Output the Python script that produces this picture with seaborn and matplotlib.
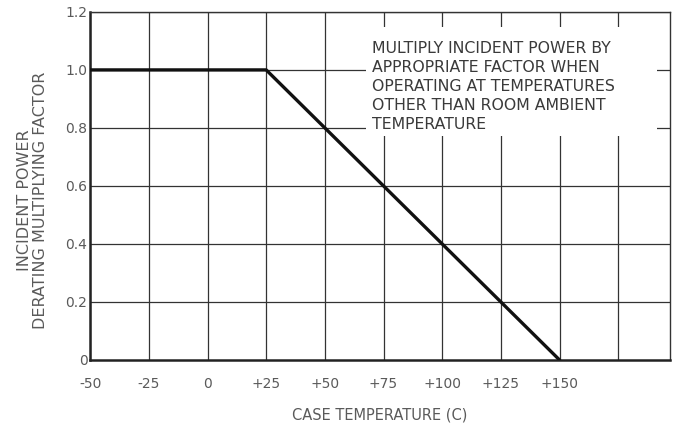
import matplotlib
matplotlib.use("Agg")
import matplotlib.pyplot as plt
from matplotlib.patches import Rectangle
import seaborn as sns
import pandas as pd

# derating curve
case_temp = [-50, 25, 150]
factor = [1.0, 1.0, 0.0]

x_ticks = [-50, -25, 0, 25, 50, 75, 100, 125, 150]
x_labels = ["-50", "-25", "0", "+25", "+50", "+75", "+100", "+125", "+150"]
x_grid = [-50, -25, 0, 25, 50, 75, 100, 125, 150, 175]
y_ticks = [0, 0.2, 0.4, 0.6, 0.8, 1.0, 1.2]
y_labels = ["0", "0.2", "0.4", "0.6", "0.8", "1.0", "1.2"]

note = ("MULTIPLY INCIDENT POWER BY\nAPPROPRIATE FACTOR WHEN\n"
        "OPERATING AT TEMPERATURES\nOTHER THAN ROOM AMBIENT\nTEMPERATURE")

sns.set_style("white")
plt.rcParams["font.family"] = ["DejaVu Sans"]
gray = "#5a5a5a"

fig = plt.figure(figsize=(6.78, 4.25), dpi=100)
ax = fig.add_axes([0.133, 0.153, 0.855, 0.819])

df = pd.DataFrame({"temp": case_temp, "factor": factor})

# grid lines
for gx in x_grid:
    ax.axvline(gx, color="#333333", lw=0.9, zorder=1)
for gy in y_ticks[1:]:
    ax.axhline(gy, color="#333333", lw=0.9, zorder=1)

sns.lineplot(data=df, x="temp", y="factor", color="#111111", lw=2.4, ax=ax, zorder=3)

ax.set_xlim(-50, 197)
ax.set_ylim(0, 1.2)
ax.set_xticks(x_ticks)
ax.set_xticklabels(x_labels)
ax.set_yticks(y_ticks)
ax.set_yticklabels(y_labels)
ax.tick_params(axis="both", length=0, labelsize=10, colors=gray)
ax.tick_params(axis="x", pad=12)
ax.tick_params(axis="y", pad=2)

ax.set_xlabel("CASE TEMPERATURE (C)", fontsize=10.5, color=gray, labelpad=12)
ax.set_ylabel("INCIDENT POWER\nDERATING MULTIPLYING FACTOR", fontsize=11.5,
              color=gray, linespacing=1.05)
ax.yaxis.label.set_multialignment("center")
ax.yaxis.set_label_coords(-0.073, 0.46)

# white panel behind the note, cutting the grid
ax.add_patch(Rectangle((67.5, 0.772), 124, 0.376, facecolor="white",
                       edgecolor="none", zorder=4))
ax.text(70.0, 1.1, note, fontsize=11.3, color="#3a3a3a", va="top", ha="left",
        linespacing=1.34, zorder=5)

for side in ["left", "bottom"]:
    ax.spines[side].set_linewidth(1.8)
    ax.spines[side].set_color("#222222")
for side in ["top", "right"]:
    ax.spines[side].set_linewidth(1.0)
    ax.spines[side].set_color("#333333")

fig.savefig("out.png", dpi=100)
